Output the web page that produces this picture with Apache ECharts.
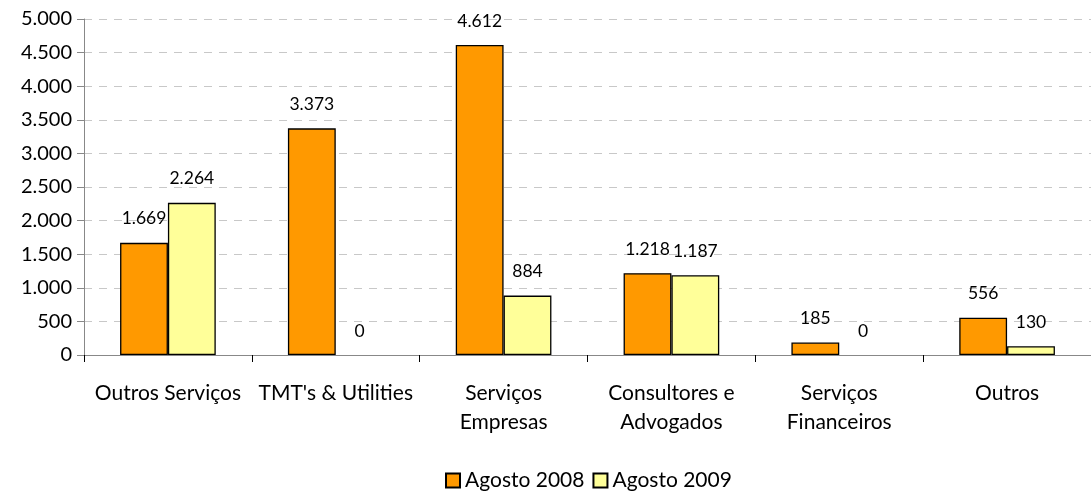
<!DOCTYPE html>
<html>
<head>
<meta charset="utf-8">
<script src="https://cdn.jsdelivr.net/npm/echarts@6/dist/echarts.min.js"></script>
<style>
  html, body, #main { margin: 0; padding: 0; width: 100%; height: 100%; overflow: hidden; background: #fff; }
</style>
</head>
<body>
<div id="main"></div>
<script>
// dados
const categorias = ["Outros Serviços", "TMT's & Utilities", "Serviços\nEmpresas", "Consultores e\nAdvogados", "Serviços\nFinanceiros", "Outros"];
const agosto2008 = [1669, 3373, 4612, 1218, 185, 556];
const agosto2009 = [2264, 0, 884, 1187, 0, 130];
const seriesNomes = ["Agosto 2008", "Agosto 2009"];

// formato 1.234
function fmt(v) {
  return String(v).replace(/\B(?=(\d{3})+(?!\d))/g, ".");
}

// barras com valor 0 sem contorno
function semZero(arr) {
  return arr.map((v) => (v === 0 ? { value: v, itemStyle: { borderWidth: 0 } } : v));
}

const fonte = "Lato, 'DejaVu Sans', sans-serif";

const rotulo = {
  show: true,
  position: "top",
  distance: 15,
  fontSize: 17.5,
  color: "#000",
  fontFamily: fonte,
  formatter: (p) => fmt(p.value),
};

let myChart = echarts.init(document.getElementById("main"));
myChart.setOption({
  animation: false,
  textStyle: { fontFamily: fonte, color: "#000" },
  legend: {
    data: seriesNomes,
    bottom: 5,
    left: 440,
    icon: "rect",
    itemWidth: 14,
    itemHeight: 14,
    itemGap: 8,
    textStyle: { fontSize: 21, color: "#000", fontFamily: fonte },
  },
  grid: {
    left: 84,
    right: -3,
    top: 19,
    bottom: 146,
  },
  xAxis: {
    type: "category",
    data: categorias,
    axisLine: { lineStyle: { color: "#888", width: 1 } },
    axisTick: { show: true, length: 7, lineStyle: { color: "#000" } },
    axisLabel: { fontSize: 21, color: "#000", margin: 24, lineHeight: 29, interval: 0 },
  },
  yAxis: {
    type: "value",
    min: 0,
    max: 5000,
    interval: 500,
    axisLine: { show: true, lineStyle: { color: "#888", width: 1 } },
    axisTick: { show: true, length: 7, lineStyle: { color: "#888" } },
    axisLabel: { fontSize: 20, color: "#000", margin: 12, formatter: fmt },
    splitLine: { lineStyle: { color: "#c8c8c8", type: [8, 7], width: 1 } },
  },
  series: [
    {
      name: seriesNomes[0],
      type: "bar",
      data: semZero(agosto2008),
      barGap: "0%",
      barCategoryGap: "43%",
      itemStyle: { color: "#FF9900", borderColor: "#000", borderWidth: 1.3 },
      label: rotulo,
    },
    {
      name: seriesNomes[1],
      type: "bar",
      data: semZero(agosto2009),
      itemStyle: { color: "#FFFF99", borderColor: "#000", borderWidth: 1.3 },
      label: rotulo,
    },
  ],
});

window.onresize = myChart.resize;
</script>
</body>
</html>
